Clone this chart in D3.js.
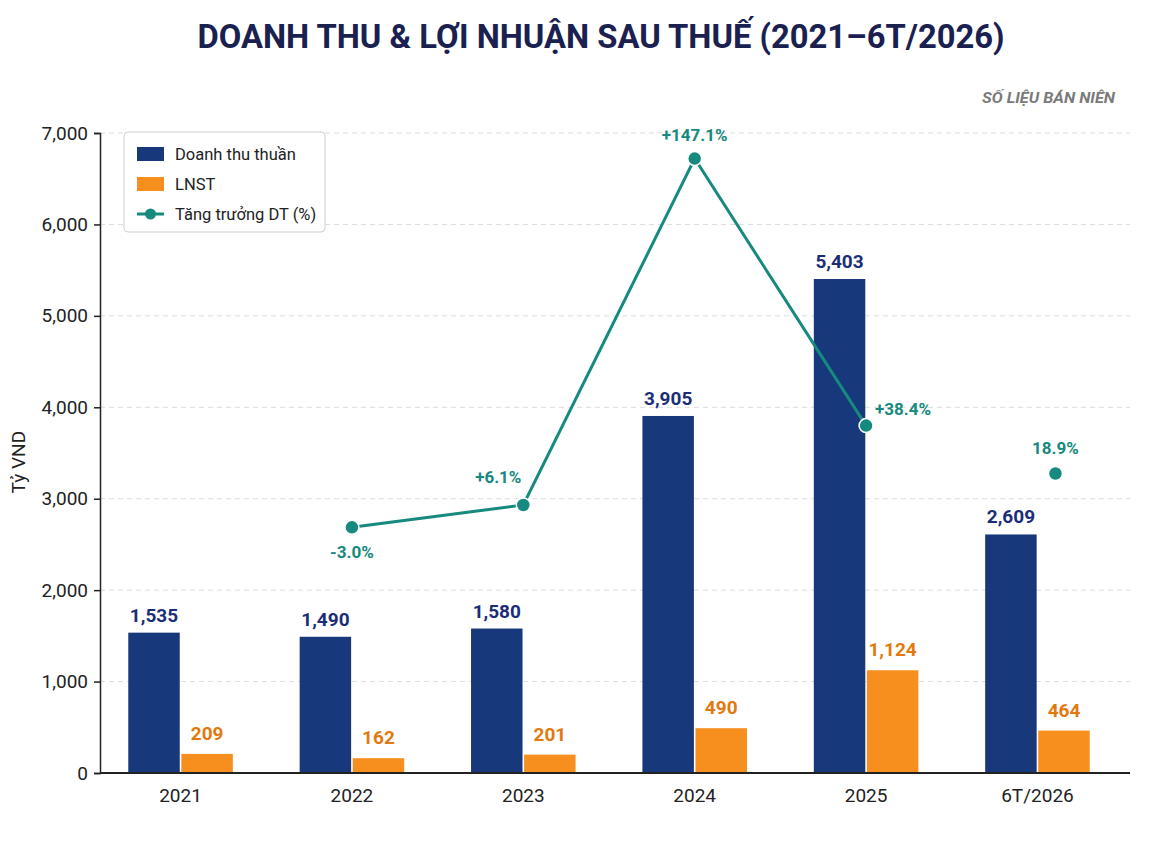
<!DOCTYPE html>
<html>
<head>
<meta charset="utf-8">
<script src="https://cdn.jsdelivr.net/npm/d3@7"></script>
<style>
  body { margin: 0; background: #fff; }
  text { font-family: Roboto, "Noto Sans", sans-serif; }
</style>
</head>
<body>
<div id="chart"></div>
<script>
  // data
  var categories = ["2021", "2022", "2023", "2024", "2025", "6T/2026"];
  var revenue = [1535, 1490, 1580, 3905, 5403, 2609];
  var profit = [209, 162, 201, 490, 1124, 464];
  var growth = [null, -3.0, 6.1, 147.1, 38.4, 18.9];
  var growthLabels = ["", "-3.0%", "+6.1%", "+147.1%", "+38.4%", "18.9%"];
  var linked = [false, true, true, true, true, false];
  var yTicks = [0, 1000, 2000, 3000, 4000, 5000, 6000, 7000];

  var W = 1149, H = 862;
  var m = { top: 133, right: 19, bottom: 89, left: 100 };
  var navy = "#17387a", orange = "#f78f1e", teal = "#168a7e";

  var svg = d3.select("#chart").append("svg").attr("width", W).attr("height", H);

  var x = d3.scaleBand().domain(categories).range([m.left - 6, W - m.right - 6]).paddingInner(0.39).paddingOuter(0.2);
  var xs = d3.scaleBand().domain(["rev", "lnst"]).range([0, x.bandwidth()]).paddingInner(0.03);
  var y = d3.scaleLinear().domain([0, 7000]).range([H - m.bottom, m.top]);
  // hidden right-hand scale for growth %
  var yg = d3.scaleLinear().domain([-103, 157.5]).range([H - m.bottom, m.top]);

  svg.append("text").attr("x", 601).attr("y", 48).attr("text-anchor", "middle")
    .attr("font-size", 34).attr("font-weight", 700).attr("fill", "#1a2150")
    .attr("textLength", 807).attr("lengthAdjust", "spacingAndGlyphs")
    .text("DOANH THU & LỢI NHUẬN SAU THUẾ (2021–6T/2026)");
  svg.append("text").attr("x", 1115).attr("y", 103).attr("text-anchor", "end")
    .attr("font-size", 15).attr("font-weight", 700).attr("font-style", "italic").attr("fill", "#7a7a7a")
    .attr("textLength", 133).attr("lengthAdjust", "spacingAndGlyphs")
    .text("SỐ LIỆU BÁN NIÊN");

  // grid
  svg.append("g").selectAll("line").data(yTicks.slice(1)).enter().append("line")
    .attr("x1", m.left).attr("x2", W - m.right)
    .attr("y1", function(d) { return y(d); }).attr("y2", function(d) { return y(d); })
    .attr("stroke", "#dcdcdc").attr("stroke-dasharray", "5,4");

  // y axis
  var yAxis = svg.append("g").attr("transform", "translate(" + m.left + ",0)")
    .call(d3.axisLeft(y).tickValues(yTicks).tickSize(6).tickPadding(6).tickFormat(d3.format(",")));
  yAxis.select(".domain").attr("stroke", "#222").attr("stroke-width", 1.5);
  yAxis.selectAll(".tick line").attr("stroke", "#222").attr("stroke-width", 1.5);
  yAxis.selectAll("text").attr("font-size", 19).attr("fill", "#222").style("font-family", "Roboto");

  svg.append("text").attr("transform", "translate(25," + (y(3400)) + ") rotate(-90)")
    .attr("text-anchor", "middle").attr("font-size", 19).attr("fill", "#222").text("Tỷ VND");

  // bars
  var g = svg.append("g").selectAll("g").data(categories).enter().append("g")
    .attr("transform", function(d) { return "translate(" + x(d) + ",0)"; });
  g.append("rect").attr("x", xs("rev")).attr("width", xs.bandwidth())
    .attr("y", function(d, i) { return y(revenue[i]); })
    .attr("height", function(d, i) { return y(0) - y(revenue[i]); }).attr("fill", navy);
  g.append("rect").attr("x", xs("lnst")).attr("width", xs.bandwidth())
    .attr("y", function(d, i) { return y(profit[i]); })
    .attr("height", function(d, i) { return y(0) - y(profit[i]); }).attr("fill", orange);
  g.append("text").attr("x", xs("rev") + xs.bandwidth() / 2).attr("text-anchor", "middle")
    .attr("y", function(d, i) { return y(revenue[i]) - 11; })
    .attr("font-size", 19).attr("font-weight", 700).attr("fill", "#1c2d78")
    .text(function(d, i) { return d3.format(",")(revenue[i]); });
  g.append("text").attr("x", xs("lnst") + xs.bandwidth() / 2).attr("text-anchor", "middle")
    .attr("y", function(d, i) { return y(profit[i]) - 14; })
    .attr("font-size", 19).attr("font-weight", 700).attr("fill", "#e2790f")
    .text(function(d, i) { return d3.format(",")(profit[i]); });

  // x axis
  var xAxis = svg.append("g").attr("transform", "translate(0," + y(0) + ")")
    .call(d3.axisBottom(x).tickSize(0).tickPadding(16));
  xAxis.select(".domain").attr("d", "M" + m.left + ",0H" + (W - m.right))
    .attr("stroke", "#222").attr("stroke-width", 2);
  xAxis.selectAll("text").attr("font-size", 19).attr("fill", "#222").style("font-family", "Roboto");

  // growth line
  var cx = function(i) { return x(categories[i]) + x.bandwidth() / 2; };
  var pts = growth.map(function(v, i) { return { i: i, v: v }; }).filter(function(p) { return p.v !== null; });
  var line = d3.line().x(function(p) { return cx(p.i); }).y(function(p) { return yg(p.v); });
  svg.append("path").datum(pts.filter(function(p) { return linked[p.i]; }))
    .attr("d", line).attr("fill", "none").attr("stroke", teal).attr("stroke-width", 3);
  svg.append("g").selectAll("circle").data(pts).enter().append("circle")
    .attr("cx", function(p) { return cx(p.i) + (linked[p.i] ? 0 : 18); }).attr("cy", function(p) { return yg(p.v); })
    .attr("r", 7).attr("fill", teal).attr("stroke", "#fff").attr("stroke-width", 1.5);

  var labelOff = { 1: [0, 31, "middle"], 2: [-25, -22, "middle"], 3: [0, -18, "middle"], 4: [9, -11, "start"], 5: [18, -20, "middle"] };
  svg.append("g").selectAll("text").data(pts).enter().append("text")
    .attr("x", function(p) { return cx(p.i) + labelOff[p.i][0]; })
    .attr("y", function(p) { return yg(p.v) + labelOff[p.i][1]; })
    .attr("text-anchor", function(p) { return labelOff[p.i][2]; })
    .attr("font-size", 17).attr("font-weight", 700).attr("fill", teal)
    .text(function(p) { return growthLabels[p.i]; });

  // legend
  var lg = svg.append("g").attr("transform", "translate(124,132)");
  lg.append("rect").attr("width", 201).attr("height", 100).attr("rx", 4)
    .attr("fill", "#fff").attr("stroke", "#cfcfcf");
  var items = [["Doanh thu thuần", navy, "bar"], ["LNST", orange, "bar"], ["Tăng trưởng DT (%)", teal, "line"]];
  var it = lg.selectAll("g").data(items).enter().append("g")
    .attr("transform", function(d, i) { return "translate(13," + (22 + i * 30) + ")"; });
  it.filter(function(d) { return d[2] === "bar"; }).append("rect")
    .attr("y", -7).attr("width", 27).attr("height", 14).attr("fill", function(d) { return d[1]; });
  it.filter(function(d) { return d[2] === "line"; }).append("line")
    .attr("x1", 0).attr("x2", 27).attr("stroke", teal).attr("stroke-width", 3);
  it.filter(function(d) { return d[2] === "line"; }).append("circle")
    .attr("cx", 13.5).attr("r", 5.5).attr("fill", teal);
  it.append("text").attr("x", 38).attr("dy", "0.35em").attr("font-size", 16.5).attr("fill", "#222")
    .text(function(d) { return d[0]; });
</script>
</body>
</html>
